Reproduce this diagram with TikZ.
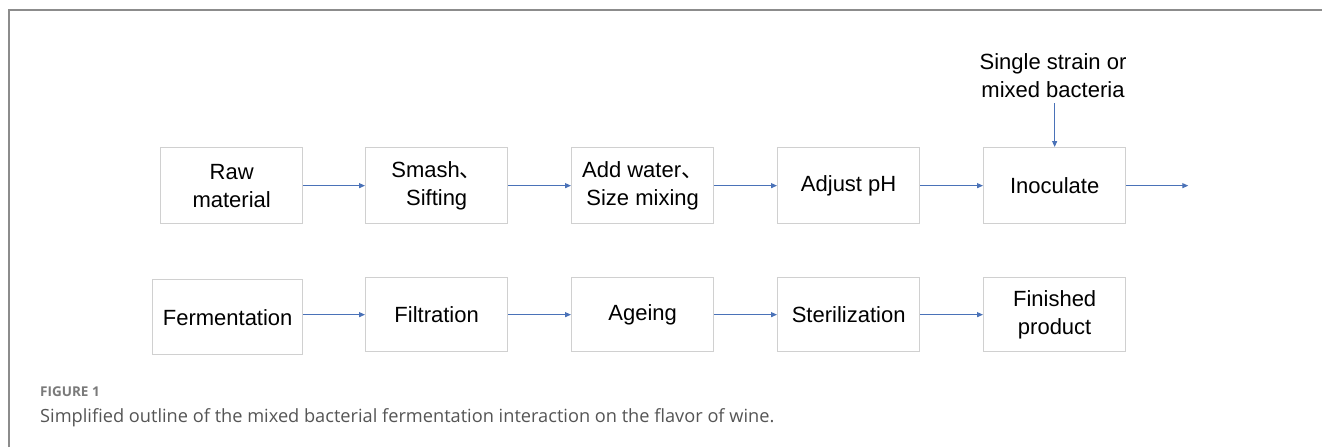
\documentclass[tikz,border=0pt]{standalone}
\usepackage{fontspec}
\setmainfont{Liberation Sans}
\newfontfamily\capfont{Open Sans}
\newfontfamily\cjk{Noto Sans CJK SC}
\usetikzlibrary{arrows.meta}
\definecolor{framegray}{HTML}{8C8C8C}
\definecolor{boxgray}{HTML}{D0D0D0}
\definecolor{arrowblue}{HTML}{4A72B8}
\definecolor{captext}{HTML}{555555}
\definecolor{figlabel}{HTML}{7A7A7A}
\begin{document}
\begin{tikzpicture}[x=1pt,y=-1pt,
  stepbox/.style={draw=boxgray,line width=1.3pt,minimum width=142pt,minimum height=76pt,
    inner sep=0pt,align=center,font=\fontsize{22}{28}\selectfont,anchor=north west},
  flow/.style={draw=arrowblue,line width=1.1pt,-{Triangle[length=6pt,width=5pt]}},
  lbl/.style={align=center,font=\fontsize{22}{28}\selectfont}]
\useasboundingbox (0,0) rectangle (1322,447);
\fill[white] (0,0) rectangle (1322,447);
\draw[framegray,line width=2pt] (9,447) -- (9,10) -- (1322,10);
% top row
\node[stepbox] (raw) at (160,147) {Raw\\material};
\node[stepbox] (smash) at (365,147) {Smash{\cjk 、}\\Sifting};
\node[stepbox] (water) at (571,147) {Add water{\cjk 、}\\Size mixing};
\node[stepbox] (ph) at (777,147) {Adjust pH};
\node[stepbox] (inoc) at (983,147) {Inoculate};
\node[lbl] (strain) at (1053,76) {Single strain or\\mixed bacteria};
\coordinate (strainEnd) at ([yshift=44pt]inoc.north);
\coordinate (outEnd) at ([xshift=62pt]inoc.east);
% bottom row
\node[stepbox,minimum width=150pt,minimum height=75pt] (ferm) at (152,279) {Fermentation};
\node[stepbox,minimum height=74pt] (filt) at (365,277) {Filtration};
\node[stepbox,minimum height=74pt] (age) at (571,277) {Ageing};
\node[stepbox,minimum height=74pt] (ster) at (777,277) {Sterilization};
\node[stepbox,minimum height=74pt] (fin) at (983,277) {Finished\\product};
% arrows
\draw[flow] (raw.east) -- (smash.west);
\draw[flow] (smash.east) -- (water.west);
\draw[flow] (water.east) -- (ph.west);
\draw[flow] (ph.east) -- (inoc.west);
\draw[flow] (inoc.east) -- (outEnd);
\draw[flow] (strainEnd) -- (inoc.north);
\draw[flow] (ferm.east |- filt.west) -- (filt.west);
\draw[flow] (filt.east) -- (age.west);
\draw[flow] (age.east) -- (ster.west);
\draw[flow] (ster.east) -- (fin.west);
% caption
\node[anchor=west,inner sep=0pt,text=figlabel,font=\capfont\bfseries\fontsize{13.5}{16}\selectfont] (fig) at (40,392) {FIGURE 1};
\node[anchor=west,inner sep=0pt,text=captext,font=\capfont\fontsize{18.2}{21}\selectfont] (cap) at (40,418) {Simplified outline of the mixed bacterial fermentation interaction on the flavor of wine.};
\end{tikzpicture}
\end{document}
